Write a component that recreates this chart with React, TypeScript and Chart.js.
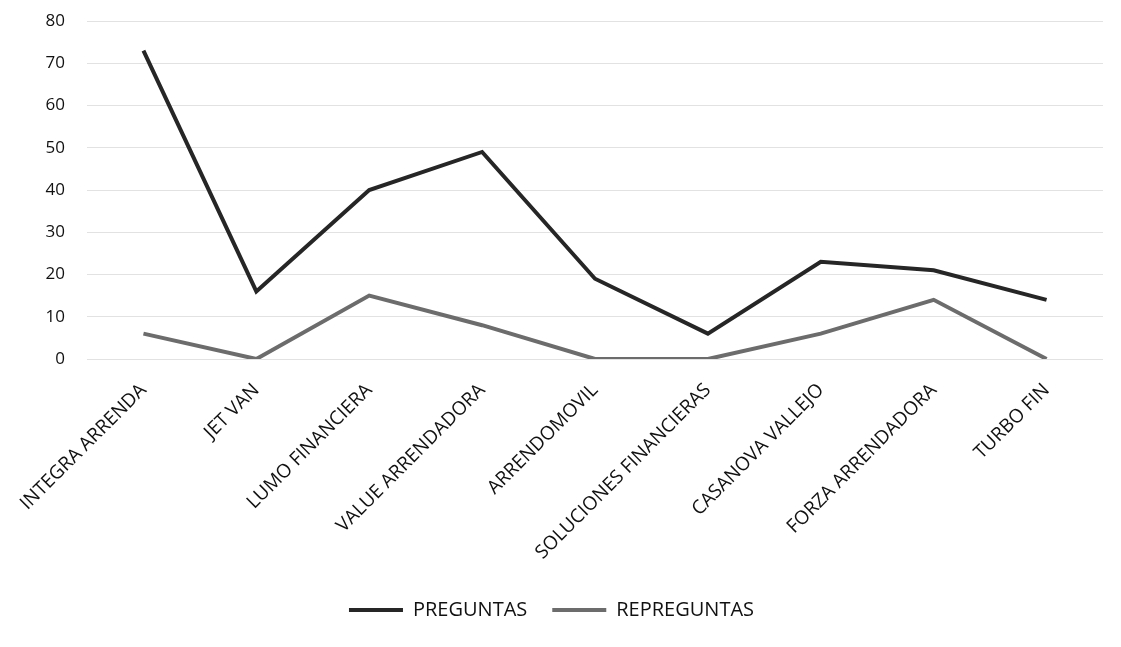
import React, { useEffect, useRef } from "react";
import { Chart, registerables } from "chart.js";

Chart.register(...registerables);

const categories = [
  "INTEGRA ARRENDA",
  "JET VAN",
  "LUMO FINANCIERA",
  "VALUE ARRENDADORA",
  "ARRENDOMOVIL",
  "SOLUCIONES FINANCIERAS",
  "CASANOVA VALLEJO",
  "FORZA ARRENDADORA",
  "TURBO FIN",
];
const preguntas = [73, 16, 40, 49, 19, 6, 23, 21, 14];
const repreguntas = [6, 0, 15, 8, 0, 0, 6, 14, 0];
const yTicks = [0, 10, 20, 30, 40, 50, 60, 70, 80];

const FONT = "'Open Sans', Lato, sans-serif";

export default function App() {
  const ref = useRef<HTMLCanvasElement | null>(null);
  useEffect(() => {
    document.body.style.margin = "0";
    const ctx = ref.current!;
    const chart = new Chart(ctx, {
      type: "line",
      data: {
        labels: categories,
        datasets: [
          {
            label: "PREGUNTAS",
            data: preguntas,
            borderColor: "#262626",
            backgroundColor: "#262626",
            borderWidth: 4,
            pointRadius: 0,
            tension: 0,
          },
          {
            label: "REPREGUNTAS",
            data: repreguntas,
            borderColor: "#6c6c6c",
            backgroundColor: "#6c6c6c",
            borderWidth: 4,
            pointRadius: 0,
            tension: 0,
          },
        ],
      },
      options: {
        animation: false,
        responsive: false,
        maintainAspectRatio: false,
        layout: { padding: { left: 0, right: 18, top: 21, bottom: 17 } },
        plugins: {
          tooltip: { enabled: false },
          legend: {
            position: "bottom",
            labels: {
              usePointStyle: true,
              pointStyle: "line",
              pointStyleWidth: 54,
              color: "#111111",
              font: { family: FONT, size: 20 },
              padding: 25,
            },
          },
        },
        scales: {
          x: {
            offset: true,
            grid: { display: false, drawTicks: false },
            border: { display: false },
            ticks: {
              color: "#111111",
              font: { family: FONT, size: 19 },
              maxRotation: 45,
              minRotation: 45,
              autoSkip: false,
              padding: 20,
            },
            afterFit: (scale: any) => {
              scale.height = 216;
              scale.paddingLeft = 0;
              scale.paddingRight = 0;
            },
          },
          y: {
            min: 0,
            max: 80,
            afterBuildTicks: (scale: any) => {
              scale.ticks = yTicks.map((v) => ({ value: v }));
            },
            grid: { color: "#e2e2e2", lineWidth: 1, drawTicks: false },
            border: { display: false },
            ticks: {
              color: "#111111",
              font: { family: FONT, size: 17 },
              padding: 22,
            },
            afterFit: (scale: any) => {
              scale.width = 87;
              scale.paddingTop = 0;
              scale.paddingBottom = 0;
            },
          },
        },
      },
    });
    return () => chart.destroy();
  }, []);
  return (
    <div style={{ position: "absolute", left: 0, top: 0, width: 1121, height: 647, background: "#fff" }}>
      <canvas ref={ref} width={1121} height={647} style={{ width: 1121, height: 647 }} />
    </div>
  );
}
